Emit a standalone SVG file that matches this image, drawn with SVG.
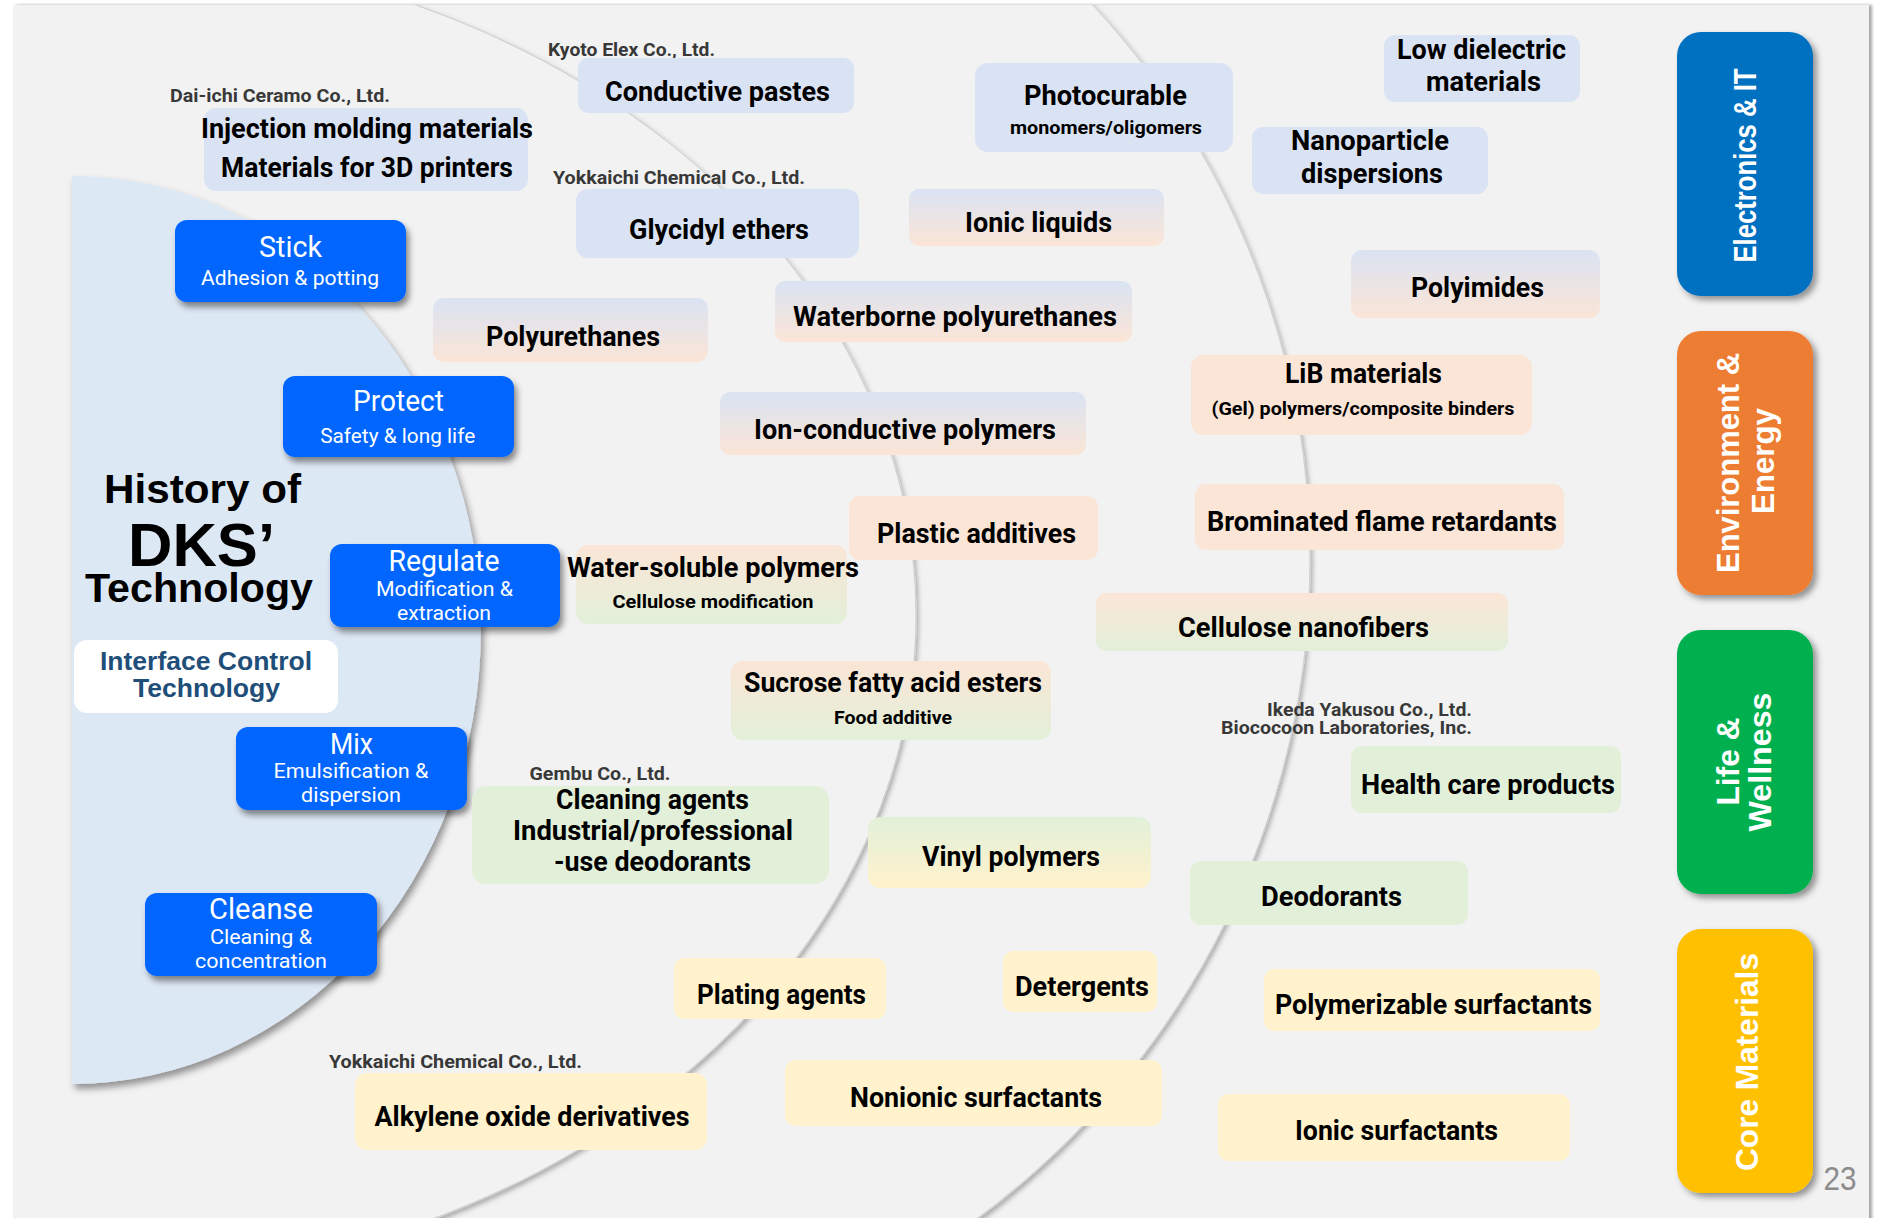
<svg xmlns="http://www.w3.org/2000/svg" width="1882" height="1218" viewBox="0 0 1882 1218">
<defs>
<style>
.p{font-family:Roboto,"Liberation Sans",sans-serif;font-weight:700;font-size:28px;fill:#000;text-anchor:middle}
.s{font-family:Roboto,"Liberation Sans",sans-serif;font-weight:700;font-size:19px;fill:#000;text-anchor:middle}
.co{font-family:Roboto,"Liberation Sans",sans-serif;font-weight:700;font-size:19px;fill:#383838;text-anchor:middle}
.coe{font-family:Roboto,"Liberation Sans",sans-serif;font-weight:700;font-size:19px;fill:#383838;text-anchor:end}
.bt{font-family:Roboto,"Liberation Sans",sans-serif;font-weight:400;font-size:29px;fill:#fff;text-anchor:middle}
.bs{font-family:Roboto,"Liberation Sans",sans-serif;font-weight:400;font-size:21px;fill:#fff;text-anchor:middle}
.ti{font-family:"Liberation Sans",Arial,sans-serif;font-weight:700;fill:#000;text-anchor:middle}
.ic{font-family:"Liberation Sans",Arial,sans-serif;font-weight:700;font-size:26px;fill:#1f4e79;text-anchor:middle}
.cat{font-family:"Liberation Sans",Arial,sans-serif;font-weight:700;font-size:32px;fill:#fff;text-anchor:middle}
.blue{fill:#dae3f3}.peach{fill:#fbe5d6}.green{fill:#e2f0d9}.yellow{fill:#fff2cc}
.bp{fill:url(#gBP)}.pg{fill:url(#gPG)}.gy{fill:url(#gGY)}
.act{fill:#0066ff;filter:url(#shAct)}
.catbox{filter:url(#shCat)}
.arc{fill:#f2f2f2;stroke:#d2d2d2;stroke-width:1.2;filter:url(#shArc)}
</style>
<linearGradient id="gBP" x1="0" y1="0" x2="0" y2="1"><stop offset="0" stop-color="#dae3f3"/><stop offset="1" stop-color="#fbe5d6"/></linearGradient>
<linearGradient id="gPG" x1="0" y1="0" x2="0" y2="1"><stop offset="0" stop-color="#fbe5d6"/><stop offset="1" stop-color="#e2f0d9"/></linearGradient>
<linearGradient id="gGY" x1="0" y1="0" x2="0" y2="1"><stop offset="0" stop-color="#e2f0d9"/><stop offset="1" stop-color="#fff2cc"/></linearGradient>
<filter id="shArc" x="-10%" y="-10%" width="120%" height="120%"><feDropShadow dx="2" dy="3" stdDeviation="2.5" flood-color="#000" flood-opacity="0.3"/></filter>
<filter id="shIn" x="-10%" y="-10%" width="125%" height="125%"><feDropShadow dx="3" dy="5" stdDeviation="3.5" flood-color="#000" flood-opacity="0.4"/></filter>
<filter id="shAct" x="-10%" y="-10%" width="125%" height="130%"><feDropShadow dx="3" dy="5" stdDeviation="3" flood-color="#000" flood-opacity="0.45"/></filter>
<filter id="shCat" x="-10%" y="-10%" width="125%" height="125%"><feDropShadow dx="4" dy="4" stdDeviation="3" flood-color="#000" flood-opacity="0.4"/></filter>
<filter id="shPanel" x="-5%" y="-5%" width="110%" height="110%"><feDropShadow dx="3" dy="0" stdDeviation="1.5" flood-color="#000" flood-opacity="0.35"/></filter>
<clipPath id="panelClip"><rect x="13" y="5" width="1856" height="1225"/></clipPath>
</defs>
<rect x="0" y="0" width="1882" height="1218" fill="#fff"/>
<rect x="13" y="5" width="1856" height="1225" fill="#f2f2f2" filter="url(#shPanel)"/>
<g id="rings" clip-path="url(#panelClip)">
<circle class="arc" cx="492" cy="560" r="818"/>
<ellipse class="arc" cx="72" cy="615" rx="844" ry="668"/>
<path d="M72,176 A409,454 0 0 1 72,1084 Z" fill="#dde8f5" filter="url(#shIn)"/>
</g>
<g id="connectors"></g>
<g id="title">
<text class="ti" x="202.5" y="503" font-size="41" textLength="197" lengthAdjust="spacingAndGlyphs">History of</text>
<text class="ti" x="201.5" y="565.5" font-size="62" textLength="147" lengthAdjust="spacingAndGlyphs">DKS’</text>
<text class="ti" x="199" y="601.5" font-size="41" textLength="228" lengthAdjust="spacingAndGlyphs">Technology</text>
</g>
<g id="interface-control">
<rect x="74" y="640" width="264" height="73" rx="13" fill="#fff"/>
<text class="ic" x="206" y="670" textLength="212" lengthAdjust="spacingAndGlyphs">Interface Control</text>
<text class="ic" x="206.5" y="696.5" textLength="147" lengthAdjust="spacingAndGlyphs">Technology</text>
</g>
<g id="stick">
<rect class="act" x="175" y="220" width="231" height="82" rx="12"/>
<text class="bt" x="290.5" y="257" textLength="63" lengthAdjust="spacingAndGlyphs">Stick</text>
<text class="bs" x="290" y="285" textLength="178" lengthAdjust="spacingAndGlyphs">Adhesion &amp; potting</text>
</g>
<g id="protect">
<rect class="act" x="283" y="376" width="231" height="81" rx="12"/>
<text class="bt" x="398.5" y="411" textLength="91" lengthAdjust="spacingAndGlyphs">Protect</text>
<text class="bs" x="397.7" y="443" textLength="155" lengthAdjust="spacingAndGlyphs">Safety &amp; long life</text>
</g>
<g id="regulate">
<rect class="act" x="330" y="544" width="230" height="83" rx="12"/>
<text class="bt" x="444" y="571" textLength="111" lengthAdjust="spacingAndGlyphs">Regulate</text>
<text class="bs" x="444.5" y="595.5" textLength="137" lengthAdjust="spacingAndGlyphs">Modification &amp;</text>
<text class="bs" x="444" y="619.7" textLength="94" lengthAdjust="spacingAndGlyphs">extraction</text>
</g>
<g id="mix">
<rect class="act" x="236" y="727" width="231" height="83" rx="12"/>
<text class="bt" x="351.5" y="753.6" textLength="43" lengthAdjust="spacingAndGlyphs">Mix</text>
<text class="bs" x="351" y="778" textLength="155" lengthAdjust="spacingAndGlyphs">Emulsification &amp;</text>
<text class="bs" x="351" y="802" textLength="100" lengthAdjust="spacingAndGlyphs">dispersion</text>
</g>
<g id="cleanse">
<rect class="act" x="145" y="893" width="232" height="83" rx="12"/>
<text class="bt" x="261" y="918.7" textLength="104" lengthAdjust="spacingAndGlyphs">Cleanse</text>
<text class="bs" x="261" y="943.6" textLength="102" lengthAdjust="spacingAndGlyphs">Cleaning &amp;</text>
<text class="bs" x="261" y="968" textLength="132" lengthAdjust="spacingAndGlyphs">concentration</text>
</g>
<g id="conductive-pastes">
<text class="co" x="631.5" y="56" textLength="167" lengthAdjust="spacingAndGlyphs">Kyoto Elex Co., Ltd.</text>
<rect class="blue" x="578" y="58" width="276" height="55" rx="10"/>
<text class="p" x="717.5" y="100.5" textLength="225" lengthAdjust="spacingAndGlyphs">Conductive pastes</text>
</g>
<g id="injection-molding">
<text class="co" x="280" y="102" textLength="220" lengthAdjust="spacingAndGlyphs">Dai-ichi Ceramo Co., Ltd.</text>
<rect class="blue" x="204" y="108" width="324" height="83" rx="12"/>
<text class="p" x="367" y="138" textLength="332" lengthAdjust="spacingAndGlyphs">Injection molding materials</text>
<text class="p" x="367" y="177" textLength="292" lengthAdjust="spacingAndGlyphs">Materials for 3D printers</text>
</g>
<g id="glycidyl-ethers">
<text class="co" x="679" y="184" textLength="252" lengthAdjust="spacingAndGlyphs">Yokkaichi Chemical Co., Ltd.</text>
<rect class="blue" x="576" y="189" width="283" height="69" rx="12"/>
<text class="p" x="719" y="238.5" textLength="180" lengthAdjust="spacingAndGlyphs">Glycidyl ethers</text>
</g>
<g id="polyurethanes">
<rect class="bp" x="433" y="298" width="275" height="64" rx="11"/>
<text class="p" x="573" y="345.5" textLength="174" lengthAdjust="spacingAndGlyphs">Polyurethanes</text>
</g>
<g id="photocurable">
<rect class="blue" x="975" y="63" width="258" height="89" rx="13"/>
<text class="p" x="1105.5" y="105" textLength="163" lengthAdjust="spacingAndGlyphs">Photocurable</text>
<text class="s" x="1106" y="134" textLength="192" lengthAdjust="spacingAndGlyphs">monomers/oligomers</text>
</g>
<g id="low-dielectric">
<rect class="blue" x="1384" y="35" width="196" height="67" rx="11"/>
<text class="p" x="1481.5" y="58.5" textLength="169" lengthAdjust="spacingAndGlyphs">Low dielectric</text>
<text class="p" x="1483.5" y="90.5" textLength="115" lengthAdjust="spacingAndGlyphs">materials</text>
</g>
<g id="nanoparticle">
<rect class="blue" x="1252" y="127" width="236" height="67" rx="11"/>
<text class="p" x="1370" y="149.5" textLength="158" lengthAdjust="spacingAndGlyphs">Nanoparticle</text>
<text class="p" x="1372" y="182.5" textLength="142" lengthAdjust="spacingAndGlyphs">dispersions</text>
</g>
<g id="ionic-liquids">
<rect class="bp" x="909" y="189" width="255" height="57" rx="10"/>
<text class="p" x="1038.5" y="232" textLength="147" lengthAdjust="spacingAndGlyphs">Ionic liquids</text>
</g>
<g id="polyimides">
<rect class="bp" x="1351" y="250" width="249" height="68" rx="11"/>
<text class="p" x="1477.5" y="297" textLength="133" lengthAdjust="spacingAndGlyphs">Polyimides</text>
</g>
<g id="waterborne-polyurethanes">
<rect class="bp" x="775" y="281" width="357" height="61" rx="10"/>
<text class="p" x="955" y="326" textLength="324" lengthAdjust="spacingAndGlyphs">Waterborne polyurethanes</text>
</g>
<g id="lib-materials">
<rect class="peach" x="1191" y="355" width="341" height="80" rx="12"/>
<text class="p" x="1363.5" y="382.5" textLength="157" lengthAdjust="spacingAndGlyphs">LiB materials</text>
<text class="s" x="1363" y="415" textLength="303" lengthAdjust="spacingAndGlyphs">(Gel) polymers/composite binders</text>
</g>
<g id="ion-conductive-polymers">
<rect class="bp" x="720" y="392" width="366" height="63" rx="10"/>
<text class="p" x="905" y="438.5" textLength="302" lengthAdjust="spacingAndGlyphs">Ion-conductive polymers</text>
</g>
<g id="brominated-flame-retardants">
<rect class="peach" x="1195" y="484" width="369" height="66" rx="11"/>
<text class="p" x="1382" y="530.5" textLength="350" lengthAdjust="spacingAndGlyphs">Brominated flame retardants</text>
</g>
<g id="plastic-additives">
<rect class="peach" x="849" y="496" width="249" height="64" rx="11"/>
<text class="p" x="976.5" y="542.5" textLength="199" lengthAdjust="spacingAndGlyphs">Plastic additives</text>
</g>
<g id="water-soluble-polymers">
<rect class="pg" x="576" y="545" width="271" height="79" rx="12"/>
<text class="p" x="713" y="576.5" textLength="292" lengthAdjust="spacingAndGlyphs">Water-soluble polymers</text>
<text class="s" x="713" y="607.5" font-size="20" textLength="201" lengthAdjust="spacingAndGlyphs">Cellulose modification</text>
</g>
<g id="cellulose-nanofibers">
<rect class="pg" x="1096" y="593" width="412" height="58" rx="10"/>
<text class="p" x="1303.5" y="637" textLength="251" lengthAdjust="spacingAndGlyphs">Cellulose nanofibers</text>
</g>
<g id="sucrose-esters">
<rect class="pg" x="731" y="661" width="320" height="79" rx="12"/>
<text class="p" x="893" y="691.5" textLength="298" lengthAdjust="spacingAndGlyphs">Sucrose fatty acid esters</text>
<text class="s" x="893" y="724" textLength="118" lengthAdjust="spacingAndGlyphs">Food additive</text>
</g>
<g id="health-care-products">
<text class="coe" x="1472" y="716" textLength="205" lengthAdjust="spacingAndGlyphs">Ikeda Yakusou Co., Ltd.</text>
<text class="coe" x="1472" y="733.5" textLength="251" lengthAdjust="spacingAndGlyphs">Biococoon Laboratories, Inc.</text>
<rect class="green" x="1351" y="746" width="270" height="67" rx="11"/>
<text class="p" x="1488" y="793.5" textLength="254" lengthAdjust="spacingAndGlyphs">Health care products</text>
</g>
<g id="cleaning-agents">
<text class="co" x="600" y="779.5" textLength="141" lengthAdjust="spacingAndGlyphs">Gembu Co., Ltd.</text>
<rect class="green" x="472" y="786" width="357" height="98" rx="14"/>
<text class="p" x="652.5" y="809" textLength="193" lengthAdjust="spacingAndGlyphs">Cleaning agents</text>
<text class="p" x="653" y="839.5" textLength="280" lengthAdjust="spacingAndGlyphs">Industrial/professional</text>
<text class="p" x="652.5" y="870.8" textLength="197" lengthAdjust="spacingAndGlyphs">-use deodorants</text>
</g>
<g id="vinyl-polymers">
<rect class="gy" x="868" y="817" width="283" height="71" rx="12"/>
<text class="p" x="1011" y="866" textLength="178" lengthAdjust="spacingAndGlyphs">Vinyl polymers</text>
</g>
<g id="deodorants">
<rect class="green" x="1190" y="861" width="278" height="64" rx="11"/>
<text class="p" x="1331.5" y="906" textLength="141" lengthAdjust="spacingAndGlyphs">Deodorants</text>
</g>
<g id="detergents">
<rect class="yellow" x="1003" y="951" width="154" height="61" rx="10"/>
<text class="p" x="1082" y="995.5" textLength="134" lengthAdjust="spacingAndGlyphs">Detergents</text>
</g>
<g id="plating-agents">
<rect class="yellow" x="674" y="958" width="212" height="61" rx="10"/>
<text class="p" x="781.5" y="1003.5" textLength="169" lengthAdjust="spacingAndGlyphs">Plating agents</text>
</g>
<g id="polymerizable-surfactants">
<rect class="yellow" x="1264" y="969" width="336" height="62" rx="10"/>
<text class="p" x="1433.5" y="1014" textLength="317" lengthAdjust="spacingAndGlyphs">Polymerizable surfactants</text>
</g>
<g id="nonionic-surfactants">
<rect class="yellow" x="785" y="1060" width="377" height="66" rx="11"/>
<text class="p" x="976" y="1107" textLength="252" lengthAdjust="spacingAndGlyphs">Nonionic surfactants</text>
</g>
<g id="alkylene-oxide-derivatives">
<text class="co" x="455.5" y="1067.5" textLength="253" lengthAdjust="spacingAndGlyphs">Yokkaichi Chemical Co., Ltd.</text>
<rect class="yellow" x="355" y="1073" width="352" height="77" rx="12"/>
<text class="p" x="532" y="1126" textLength="315" lengthAdjust="spacingAndGlyphs">Alkylene oxide derivatives</text>
</g>
<g id="ionic-surfactants">
<rect class="yellow" x="1218" y="1094" width="352" height="67" rx="11"/>
<text class="p" x="1396.5" y="1140" textLength="203" lengthAdjust="spacingAndGlyphs">Ionic surfactants</text>
</g>
<g id="cat-electronics">
<rect class="catbox" x="1677" y="32" width="136" height="264" rx="24" fill="#0070c0"/>
<text class="cat" transform="translate(1756,165.5) rotate(-90)" textLength="194" lengthAdjust="spacingAndGlyphs">Electronics &amp; IT</text>
</g>
<g id="cat-environment">
<rect class="catbox" x="1677" y="331" width="136" height="264" rx="24" fill="#ed7d31"/>
<text class="cat" font-size="31" transform="translate(1739,463) rotate(-90)" textLength="220" lengthAdjust="spacingAndGlyphs">Environment &amp;</text>
<text class="cat" font-size="31" transform="translate(1774,461) rotate(-90)" textLength="106" lengthAdjust="spacingAndGlyphs">Energy</text>
</g>
<g id="cat-life">
<rect class="catbox" x="1677" y="630" width="136" height="264" rx="24" fill="#00b050"/>
<text class="cat" transform="translate(1739,761.5) rotate(-90)" textLength="88" lengthAdjust="spacingAndGlyphs">Life &amp;</text>
<text class="cat" transform="translate(1771,762) rotate(-90)" textLength="139" lengthAdjust="spacingAndGlyphs">Wellness</text>
</g>
<g id="cat-core">
<rect class="catbox" x="1677" y="929" width="136" height="264" rx="24" fill="#ffc000"/>
<text class="cat" transform="translate(1758,1062) rotate(-90)" textLength="218" lengthAdjust="spacingAndGlyphs">Core Materials</text>
</g>
<text x="1840" y="1190" font-family="'Liberation Sans',Arial,sans-serif" font-size="34" fill="#8c8c8c" text-anchor="middle" textLength="33" lengthAdjust="spacingAndGlyphs">23</text>
</svg>
